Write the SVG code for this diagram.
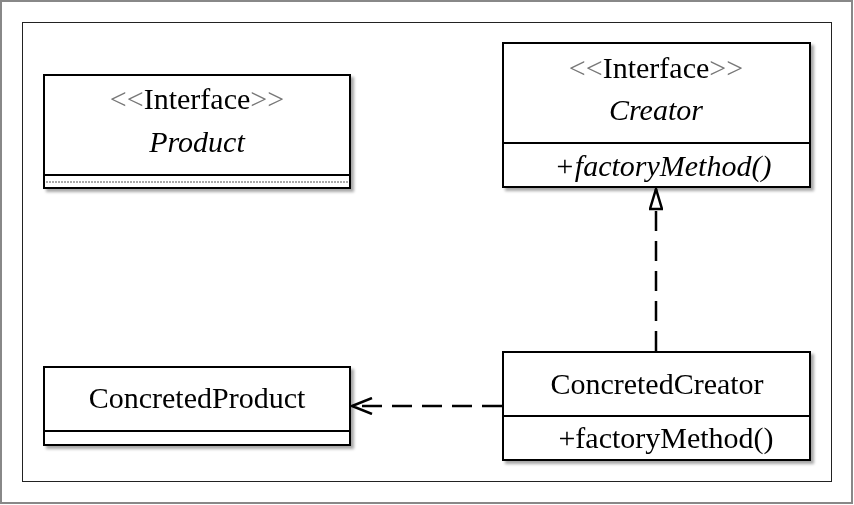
<svg xmlns="http://www.w3.org/2000/svg" width="854" height="505" viewBox="0 0 854 505">
<defs>
<filter id="sh" x="-5%" y="-5%" width="115%" height="120%">
<feGaussianBlur in="SourceAlpha" stdDeviation="1.5"/>
<feOffset dx="3" dy="3" result="b"/>
<feComponentTransfer><feFuncA type="linear" slope="0.35"/></feComponentTransfer>
<feMerge><feMergeNode/><feMergeNode in="SourceGraphic"/></feMerge>
</filter>
<marker id="tri" viewBox="0 0 23 14" refX="22" refY="7" markerWidth="23" markerHeight="14" markerUnits="userSpaceOnUse" orient="auto">
<path d="M22,7 L2,1 L2,13 Z" fill="#fff" stroke="#000" stroke-width="2.5"/>
</marker>
<marker id="open" viewBox="0 0 22 18" refX="21" refY="9" markerWidth="22" markerHeight="18" markerUnits="userSpaceOnUse" orient="auto">
<path d="M1,1 L21,9 L1,17" fill="none" stroke="#000" stroke-width="2.5"/>
</marker>
</defs>
<style>
.box{fill:#fff;stroke:#000;stroke-width:2}
.ln{stroke:#000;stroke-width:2}
.t{font-family:"Liberation Serif","Times New Roman",serif;font-size:30px;fill:#000;text-anchor:middle}
.i{font-style:italic}
.g{fill:#777}
.dash{fill:none;stroke:#000;stroke-width:2.5;stroke-dasharray:20,10}
</style>
<rect x="1" y="1" width="851" height="502" fill="#fff" stroke="#888" stroke-width="2"/>
<rect x="22.5" y="22.5" width="809" height="459" fill="none" stroke="#222" stroke-width="1"/>

<g id="product" filter="url(#sh)">
<rect class="box" x="44" y="75" width="306" height="113"/>
<line class="ln" x1="44" y1="175" x2="350" y2="175"/>
<line x1="46" y1="182" x2="348" y2="182" stroke="#555" stroke-width="1" stroke-dasharray="2,1"/>
<text class="t" x="197" y="109"><tspan class="g">&lt;&lt;</tspan>Interface<tspan class="g">&gt;&gt;</tspan></text>
<text class="t i" x="197" y="152">Product</text>
</g>

<g id="creator" filter="url(#sh)">
<rect class="box" x="503" y="43" width="307" height="144"/>
<line class="ln" x1="503" y1="143" x2="810" y2="143"/>
<text class="t" x="656" y="78"><tspan class="g">&lt;&lt;</tspan>Interface<tspan class="g">&gt;&gt;</tspan></text>
<text class="t i" x="656" y="120">Creator</text>
<text class="t i" x="663" y="176">+factoryMethod()</text>
</g>

<g id="concretedProduct" filter="url(#sh)">
<rect class="box" x="44" y="367" width="306" height="78"/>
<line class="ln" x1="44" y1="431" x2="350" y2="431"/>
<text class="t" x="197" y="408">ConcretedProduct</text>
</g>

<g id="concretedCreator" filter="url(#sh)">
<rect class="box" x="503" y="352" width="307" height="108"/>
<line class="ln" x1="503" y1="416" x2="810" y2="416"/>
<text class="t" x="657" y="394">ConcretedCreator</text>
<text class="t" x="666" y="448">+factoryMethod()</text>
</g>

<g id="connectors">
<path class="dash" d="M656,351 L656,189" marker-end="url(#tri)"/>
<path class="dash" d="M502,406 L352,406" marker-end="url(#open)"/>
</g>
</svg>
